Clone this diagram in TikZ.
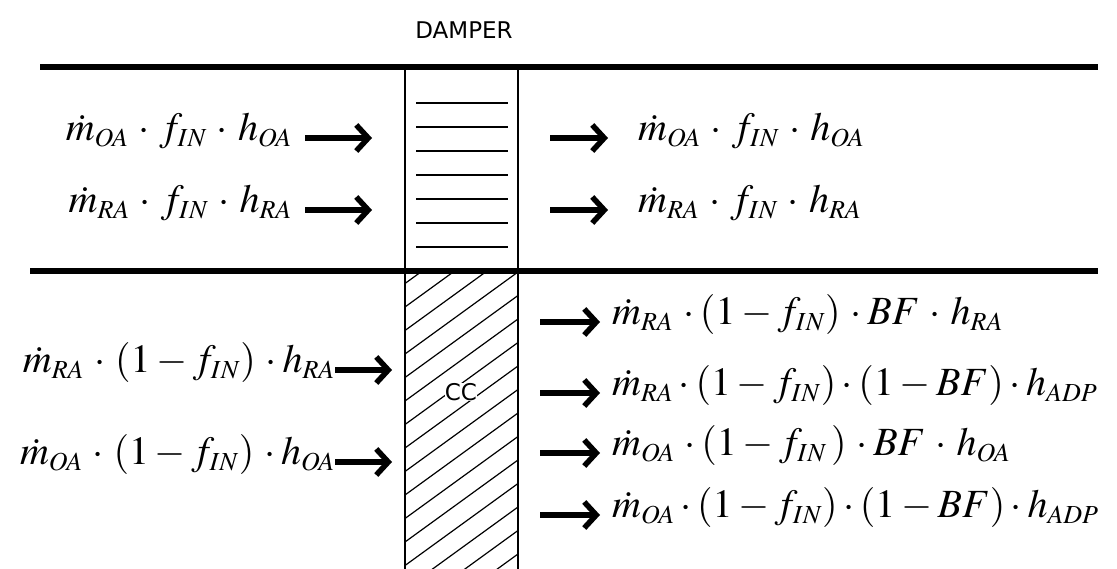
\documentclass[tikz,border=0pt]{standalone}
\usepackage{mathptmx}
\usepackage[no-math]{fontspec}
\newfontfamily\labelfont{DejaVu Sans}
\DeclareMathSizes{40}{40}{26}{20}
\usetikzlibrary{arrows.meta,positioning}
\tikzset{
  eq/.style={inner sep=0pt, font=\fontsize{40}{46}\selectfont},
  flow/.style={line width=5.5pt, -{Straight Barb[length=12pt,width=26pt]}},
  duct/.style={line width=6pt},
  wall/.style={line width=1.5pt},
  slat/.style={line width=1.3pt},
  lab/.style={font=\labelfont\fontsize{23}{27}\selectfont, inner sep=1pt},
}
\begin{document}
\begin{tikzpicture}[x=1pt,y=-1pt]
 \useasboundingbox (0,0) rectangle (1117,569);
 \node[lab] (damper) at (464,30) {DAMPER};
 % duct walls
 \draw[duct] (40,67) -- (1098,67);
 \draw[duct] (30,271) -- (1098,271);
 % damper and coil frame
 \draw[wall] (405,67) -- (405,569);
 \draw[wall] (518,67) -- (518,569);
 \foreach \y in {103,127,...,247}{\draw[slat] (416,\y) -- (508,\y);}
 \begin{scope}
  \clip (405,274) rectangle (518,569);
  \foreach \y in {283.5,307,...,660}{\draw[line width=1.2pt] (405,\y) -- (518,\y-82);}
 \end{scope}
 \node[lab, fill=white, inner sep=0pt] (cc) at (461,392) {CC};
 % bypass stream
 \node[eq, anchor=mid east] (oaIn) at (292,138) {$\dot m_{OA}\,\cdot\, f_{IN}\,\cdot\, h_{OA}$};
 \node[eq, anchor=mid east] (raIn) at (292,210) {$\dot m_{RA}\,\cdot\, f_{IN}\,\cdot\, h_{RA}$};
 \draw[flow] ([xshift=13pt]oaIn.mid east) -- ++(67,0);
 \draw[flow] ([xshift=13pt]raIn.mid east) -- ++(67,0);
 \node[eq, anchor=mid west] (oaOut) at (638,138) {$\dot m_{OA}\,\cdot\, f_{IN}\,\cdot\, h_{OA}$};
 \node[eq, anchor=mid west] (raOut) at (638,210) {$\dot m_{RA}\,\cdot\, f_{IN}\,\cdot\, h_{RA}$};
 \draw[flow] ([xshift=-88pt]oaOut.mid west) -- ++(58,0);
 \draw[flow] ([xshift=-88pt]raOut.mid west) -- ++(58,0);
 % coil stream
 \node[eq, anchor=mid east] (raCoil) at (335,370) {$\dot m_{RA}\,\cdot\,(1-f_{IN})\,\cdot h_{RA}$};
 \node[eq, anchor=mid east] (oaCoil) at (335,462) {$\dot m_{OA}\,\cdot\,(1-f_{IN})\,\cdot h_{OA}$};
 \draw[flow] (raCoil.mid east) -- ++(57,0);
 \draw[flow] (oaCoil.mid east) -- ++(57,0);
 \node[eq, anchor=mid west] (raBy) at (612,322) {$\dot m_{RA}\,\cdot(1-f_{IN})\,\cdot BF\,\cdot\, h_{RA}$};
 \node[eq, anchor=mid west] (raAdp) at (612,393) {$\dot m_{RA}\cdot(1-f_{IN})\cdot(1-BF)\cdot h_{ADP}$};
 \node[eq, anchor=mid west] (oaBy) at (612,453) {$\dot m_{OA}\,\cdot(1-f_{IN}\,)\,\cdot BF\,\cdot\, h_{OA}$};
 \node[eq, anchor=mid west] (oaAdp) at (612,515) {$\dot m_{OA}\cdot(1-f_{IN})\cdot(1-BF)\cdot h_{ADP}$};
 \foreach \n in {raBy,raAdp,oaBy,oaAdp}{\draw[flow] ([xshift=-72pt]\n.mid west) -- ++(60,0);}
\end{tikzpicture}
\end{document}
